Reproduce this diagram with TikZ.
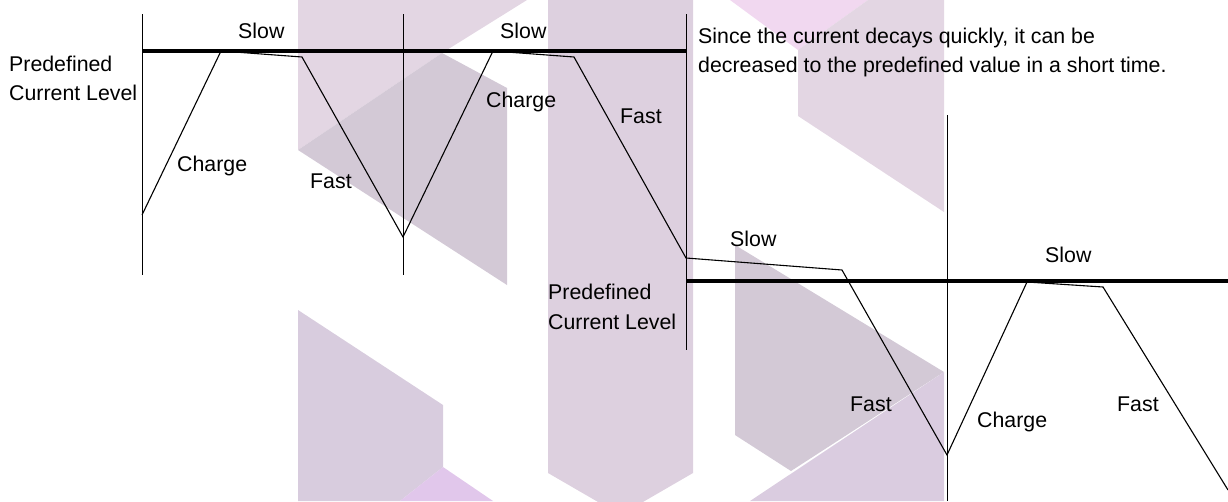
\documentclass[tikz,border=0pt]{standalone}
\usepackage{fontspec}
\setmainfont{Liberation Sans}
\definecolor{wmA}{HTML}{E3D6E3}
\definecolor{wmB}{HTML}{DDD0DF}
\definecolor{wmC}{HTML}{D3C9D6}
\definecolor{wmD}{HTML}{D8CCDE}
\definecolor{wmE}{HTML}{F1D8F0}
\definecolor{wmF}{HTML}{E1C7EB}
\definecolor{wmG}{HTML}{DACCE0}
\begin{document}
\begin{tikzpicture}[x=1pt,y=-1pt,
  lbl/.style={anchor=base west,inner sep=0pt,font=\fontsize{21.33}{29}\selectfont},
  wave/.style={line width=1.1pt,line join=miter},
  axisline/.style={line width=1.0pt},
  level/.style={line width=4.3pt}]
\useasboundingbox (0,0) rectangle (1228,501);
% watermark
\begin{scope}
\clip (0,0) rectangle (1228,501);
\fill[wmA] (298,0) -- (527,0) -- (442,53) -- (298,150) -- cycle;
\fill[wmC] (298,150) -- (442,53) -- (507,88) -- (507,285) -- cycle;
\fill[wmB] (548,0) -- (693,0) -- (693,473) -- (620.5,515) -- (548,473) -- cycle;
\fill[wmD] (298,310) -- (443,405) -- (443,467) -- (400,501) -- (298,501) -- cycle;
\fill[wmF] (400,501) -- (443,467) -- (493,501) -- cycle;
\fill[wmE] (730,0) -- (868,0) -- (798,50) -- cycle;
\fill[wmA] (798,50) -- (868,0) -- (944,0) -- (944,212) -- (798,116) -- cycle;
\fill[wmC] (735,245) -- (944,372) -- (791,471) -- (735,435) -- cycle;
\fill[wmG] (750,501) -- (944,372) -- (944,501) -- cycle;
\end{scope}
% axes
\coordinate (v1t) at (142,14);  \coordinate (v1b) at (142,275);
\coordinate (v2t) at (403,14);  \coordinate (v2b) at (403,275);
\coordinate (v3t) at (686,14);  \coordinate (v3b) at (686,350);
\coordinate (v4t) at (947,115); \coordinate (v4b) at (947,501);
\coordinate (h1a) at (142,51);  \coordinate (h1b) at (686,51);
\coordinate (h2a) at (686,281); \coordinate (h2b) at (1228,281);
\draw[level] (h1a) -- (h1b);
\draw[level] (h2a) -- (h2b);
\draw[axisline] (v1t) -- (v1b);
\draw[axisline] (v2t) -- (v2b);
\draw[axisline] (v3t) -- (v3b);
\draw[axisline] (v4t) -- (v4b);
% waveform
\coordinate (w0) at (142,215);
\coordinate (w1) at (221,51);
\coordinate (w2) at (302,57);
\coordinate (w3) at (403,237);
\coordinate (w4) at (493,51);
\coordinate (w5) at (574,57);
\coordinate (w6) at (686,258);
\coordinate (w7) at (842,270);
\coordinate (w8) at (947,455);
\coordinate (w9) at (1027,282);
\coordinate (w10) at (1103,287);
\coordinate (w11) at (1228,490);
\draw[wave] (w0) -- (w1) -- (w2) -- (w3) -- (w4) -- (w5) -- (w6) -- (w7) -- (w8) -- (w9) -- (w10) -- (w11);
% labels
\node[lbl] (slow1) at (238,38.5) {Slow};
\node[lbl] (pre1a) at (9,71) {Predefined};
\node[lbl] (pre1b) at (9,100) {Current Level};
\node[lbl] (charge1) at (177,171) {Charge};
\node[lbl] (fast1) at (310,188) {Fast};
\node[lbl] (slow2) at (500,38.5) {Slow};
\node[lbl] (charge2) at (486,107) {Charge};
\node[lbl] (fast2) at (620,123) {Fast};
\node[lbl] (note1) at (698,43) {Since the current decays quickly, it can be};
\node[lbl] (note2) at (698,72) {decreased to the predefined value in a short time.};
\node[lbl] (slow3) at (730,246) {Slow};
\node[lbl] (pre2a) at (548,299) {Predefined};
\node[lbl] (pre2b) at (548,329) {Current Level};
\node[lbl] (fast3) at (850,411) {Fast};
\node[lbl] (slow4) at (1045,262) {Slow};
\node[lbl] (charge3) at (977,427) {Charge};
\node[lbl] (fast4) at (1117,411) {Fast};
\end{tikzpicture}
\end{document}
